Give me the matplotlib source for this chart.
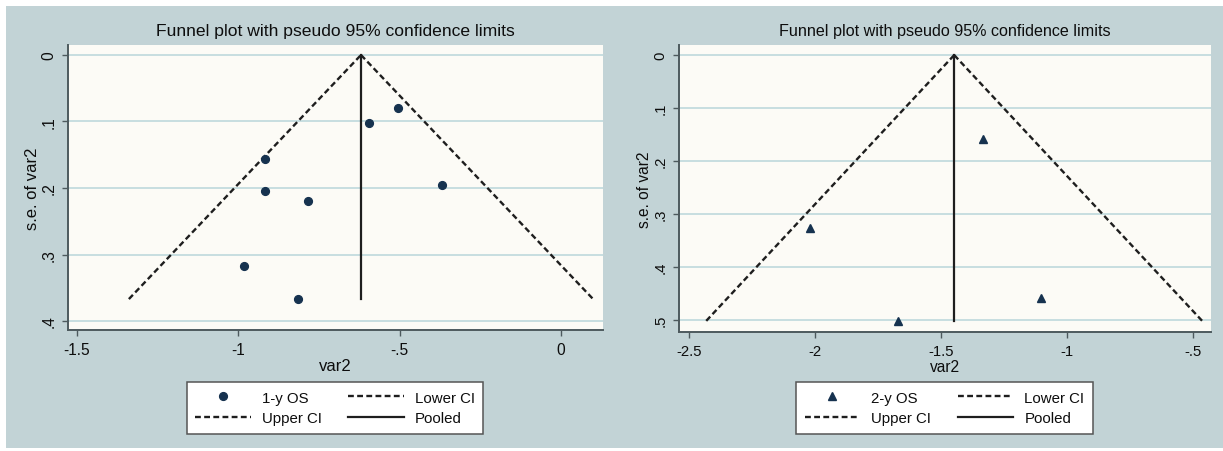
import matplotlib
matplotlib.use("Agg")
import matplotlib.pyplot as plt
from matplotlib.patches import Rectangle
import numpy as np

plt.rcParams['font.family'] = ['Liberation Sans', 'DejaVu Sans']
plt.rcParams['lines.scale_dashes'] = False

# ---------------- data ----------------
title = "Funnel plot with pseudo 95% confidence limits"

x_1y = [-0.917, -0.917, -0.783, -0.596, -0.505, -0.368, -0.984, -0.816]
se_1y = [0.157, 0.205, 0.220, 0.102, 0.079, 0.195, 0.318, 0.367]
pooled_1y = -0.620
label_1y = "1-y OS"

x_2y = [-1.332, -2.020, -1.103, -1.672]
se_2y = [0.158, 0.326, 0.458, 0.502]
pooled_2y = -1.448
label_2y = "2-y OS"

xticks_1 = [-1.5, -1.0, -0.5, 0.0]
xticklabels_1 = ["-1.5", "-1", "-.5", "0"]
yticks_1 = [0.0, 0.1, 0.2, 0.3, 0.4]
yticklabels_1 = ["0", ".1", ".2", ".3", ".4"]

xticks_2 = [-2.5, -2.0, -1.5, -1.0, -0.5]
xticklabels_2 = ["-2.5", "-2", "-1.5", "-1", "-.5"]
yticks_2 = [0.0, 0.1, 0.2, 0.3, 0.4, 0.5]
yticklabels_2 = ["0", ".1", ".2", ".3", ".4", ".5"]

xlabel = "var2"
ylabel = "s.e. of var2"

# ---------------- style ----------------
W, H = 1223, 452
BG = "#c2d3d6"
PLOT_BG = "#fcfbf6"
GRID = "#c3dbde"
MARK = "#16324f"
LINE = "#1e1e1e"
SPINE = "#4d5a5e"
TXT = "#0d0d0d"
DASH = (0, (4.2, 2.4))

fig = plt.figure(figsize=(W / 100, H / 100), dpi=100)
fig.patch.set_facecolor("white")
bg_ax = fig.add_axes([0, 0, 1, 1], zorder=-10)
bg_ax.set_xlim(0, W)
bg_ax.set_ylim(H, 0)
bg_ax.axis("off")
bg_ax.add_patch(Rectangle((6, 7), W - 6, 449 - 7, facecolor=BG, edgecolor="none"))


def px_axes(x0, y0, x1, y1):
    return fig.add_axes([x0 / W, (H - y1) / H, (x1 - x0) / W, (y1 - y0) / H])


def funnel(ax, xs, ses, pooled, marker, lab, xt, xtl, yt, ytl, xlim, ylim,
           fs_title, fs_tick, fs_lab, legend_center, ms):
    ax.set_facecolor(PLOT_BG)
    maxse = max(ses)
    z = 1.96
    ax.plot([pooled - z * maxse, pooled], [maxse, 0], color=LINE, lw=1.7,
            linestyle=DASH, zorder=3, label="Lower CI")
    ax.plot([pooled, pooled + z * maxse], [0, maxse], color=LINE, lw=1.7,
            linestyle=DASH, zorder=3, label="Upper CI")
    ax.plot([pooled, pooled], [0, maxse], color=LINE, lw=1.6, zorder=3,
            label="Pooled")
    ax.plot(xs, ses, linestyle="none", marker=marker, ms=ms, color=MARK,
            mec=MARK, zorder=4, label=lab)
    ax.set_xlim(*xlim)
    ax.set_ylim(*ylim)
    ax.set_xticks(xt)
    ax.set_xticklabels(xtl, fontsize=fs_tick, color=TXT)
    ax.set_yticks(yt)
    ax.set_yticklabels(ytl, fontsize=fs_tick, color=TXT, rotation=90,
                       va="center")
    for y in yt:
        ax.axhline(y, color=GRID, lw=1.3, zorder=1)
    for s in ["top", "right"]:
        ax.spines[s].set_visible(False)
    for s in ["left", "bottom"]:
        ax.spines[s].set_color(SPINE)
        ax.spines[s].set_linewidth(1.4)
    ax.tick_params(axis="both", length=4.5, width=1.0, color=SPINE, pad=4)
    ax.set_xlabel(xlabel, fontsize=fs_lab, labelpad=1, color=TXT)
    ax.set_ylabel(ylabel, fontsize=fs_lab, labelpad=1, color=TXT)
    ax.set_title(title, fontsize=fs_title, pad=7, color=TXT)
    hs = {h.get_label(): h for h in ax.get_lines()}
    order = [lab, "Upper CI", "Lower CI", "Pooled"]
    leg = ax.legend([hs[k] for k in order], order, ncol=2, loc="center",
                    bbox_to_anchor=(legend_center[0] / W, 1 - legend_center[1] / H),
                    bbox_transform=fig.transFigure, fontsize=10.8,
                    frameon=True, fancybox=False, edgecolor="#555555",
                    facecolor="white", framealpha=1, handlelength=3.7,
                    handletextpad=0.75, columnspacing=1.75, borderpad=0.55,
                    labelspacing=0.45, numpoints=1)
    leg.get_frame().set_linewidth(1.1)
    for t in leg.get_texts():
        t.set_color(TXT)


ax1 = px_axes(68, 46, 603, 331)
funnel(ax1, x_1y, se_1y, pooled_1y, "o", label_1y, xticks_1, xticklabels_1,
       yticks_1, yticklabels_1, (-1.528, 0.130), (0.4135, -0.015),
       12.6, 11.2, 12.0, (335, 409), 5.6)

ax2 = px_axes(679, 46, 1211, 333)
funnel(ax2, x_2y, se_2y, pooled_2y, "^", label_2y, xticks_2, xticklabels_2,
       yticks_2, yticklabels_2, (-2.54, -0.429), (0.523, -0.019),
       11.6, 10.7, 11.2, (944.5, 409), 6.0)

fig.savefig("out.png", dpi=100, facecolor=fig.get_facecolor())
